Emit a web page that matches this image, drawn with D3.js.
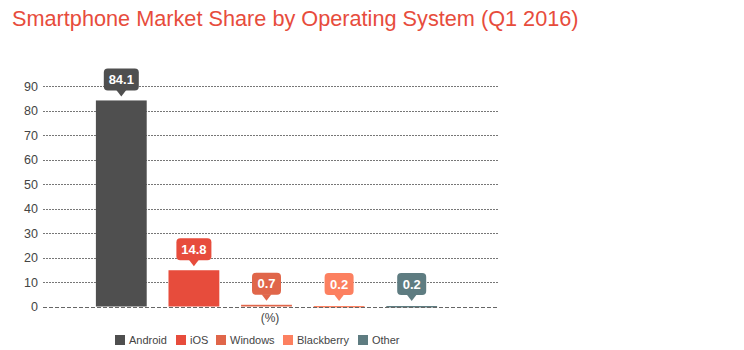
<!DOCTYPE html>
<html>
<head>
<meta charset="utf-8">
<script src="https://cdn.jsdelivr.net/npm/d3@7"></script>
<style>
  body { margin: 0; background: #fff; }
  svg { display: block; font-family: "Liberation Sans", Arial, sans-serif; }
</style>
</head>
<body>
<svg id="chart" width="744" height="350"></svg>
<script>
const categories = ["Android", "iOS", "Windows", "Blackberry", "Other"];
const values = [84.1, 14.8, 0.7, 0.2, 0.2];
const colors = ["#4f4f4f", "#e74c3c", "#e0664a", "#fc8060", "#5e7c81"];
const yTicks = [0, 10, 20, 30, 40, 50, 60, 70, 80, 90];
const titleText = "Smartphone Market Share by Operating System (Q1 2016)";
const unitLabel = "(%)";

const svg = d3.select("#chart");
const plotLeft = 43, plotRight = 498;
const y = d3.scaleLinear().domain([0, 90]).range([306.5, 86]);
const x = d3.scaleBand().domain(categories).range([85, 448]).paddingInner(0.3).paddingOuter(0.15);

svg.append("text").attr("x", 12).attr("y", 26)
  .attr("fill", "#e74c3c").attr("font-size", 21.7).text(titleText);

// grid lines
svg.append("g").selectAll("line").data(yTicks.filter(d => d > 0)).join("line")
  .attr("x1", plotLeft).attr("x2", plotRight)
  .attr("y1", d => Math.round(y(d)) + 0.5).attr("y2", d => Math.round(y(d)) + 0.5)
  .attr("stroke", "#777").attr("stroke-dasharray", "2,1").attr("stroke-width", 1);

// y axis labels
const yAxis = d3.axisLeft(y).tickValues(yTicks).tickSize(0).tickPadding(0);
const ya = svg.append("g").attr("transform", "translate(38,0)").call(yAxis);
ya.select(".domain").remove();
ya.selectAll("text").attr("font-size", 12.5).attr("fill", "#444").attr("font-family", "Liberation Sans, Arial, sans-serif");

// bars
svg.append("g").selectAll("rect").data(categories).join("rect")
  .attr("x", d => x(d)).attr("width", x.bandwidth())
  .attr("y", (d, i) => y(values[i]))
  .attr("height", (d, i) => Math.max(1.5, y(0) - y(values[i])))
  .attr("fill", (d, i) => colors[i]);

// baseline
svg.append("line").attr("x1", plotLeft).attr("x2", plotRight)
  .attr("y1", Math.round(y(0)) + 0.5).attr("y2", Math.round(y(0)) + 0.5)
  .attr("stroke", "#666").attr("stroke-dasharray", "4,2").attr("stroke-width", 1);

// callouts
const cg = svg.append("g");
categories.forEach((c, i) => {
  const cx = x(c) + x.bandwidth() / 2;
  const top = Math.min(y(values[i]), y(0) - 1.5);
  const label = values[i].toFixed(1);
  const w = label.length > 3 ? 35 : 29;
  const h = 22;
  const bottom = top - 10;
  const g = cg.append("g");
  g.append("rect").attr("x", cx - w / 2).attr("y", bottom - h).attr("width", w).attr("height", h)
    .attr("rx", 4).attr("fill", colors[i]);
  g.append("path").attr("d", `M${cx - 5},${bottom - 0.5} L${cx + 5},${bottom - 0.5} L${cx},${bottom + 6} Z`)
    .attr("fill", colors[i]);
  g.append("text").attr("x", cx).attr("y", bottom - h / 2 + 4.5)
    .attr("text-anchor", "middle").attr("fill", "#fff").attr("font-size", 13).attr("font-weight", "bold")
    .text(label);
});

svg.append("text").attr("x", 270).attr("y", 322).attr("text-anchor", "middle")
  .attr("font-size", 12).attr("fill", "#444").text(unitLabel);

// legend
const legendX = [115, 176, 216, 283, 358];
const lg = svg.append("g");
categories.forEach((c, i) => {
  lg.append("rect").attr("x", legendX[i]).attr("y", 335).attr("width", 10).attr("height", 10).attr("fill", colors[i]);
  lg.append("text").attr("x", legendX[i] + 14).attr("y", 344).attr("font-size", 11).attr("fill", "#444").text(c);
});
</script>
</body>
</html>
